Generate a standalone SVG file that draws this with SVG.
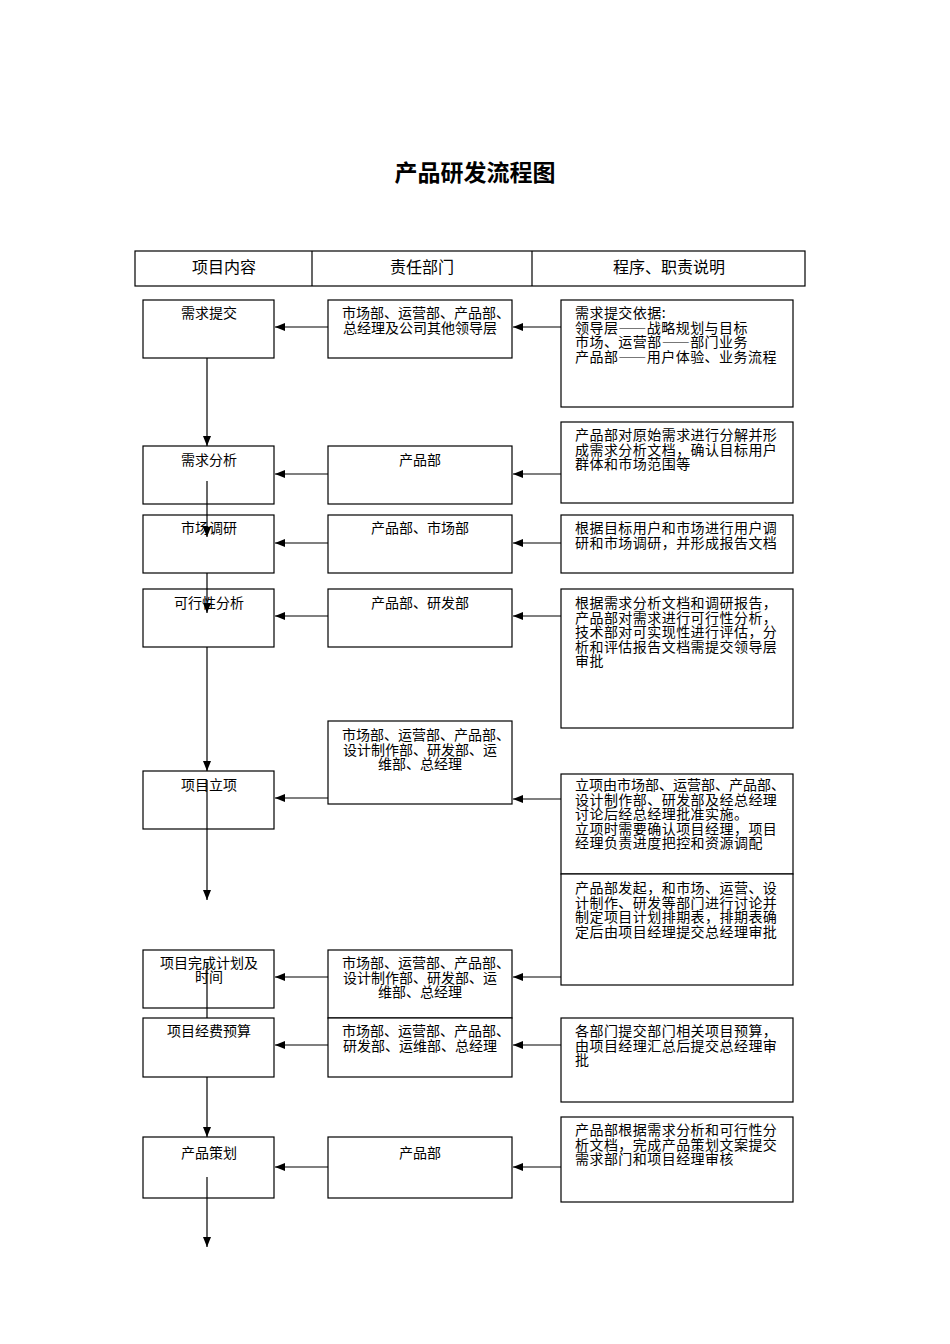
<svg xmlns="http://www.w3.org/2000/svg" width="950" height="1344" viewBox="0 0 950 1344">
<style>
.bx{fill:#fff;stroke:#000;stroke-width:1.2}
.t{font-family:"Noto Sans CJK SC","Liberation Serif",sans-serif;font-size:14px;fill:#000}
.r{letter-spacing:0.45px}
.fw{font-feature-settings:"fwid"}
.c{text-anchor:middle}
.h{font-family:"Noto Sans CJK SC","Liberation Serif",sans-serif;font-size:16px;fill:#000;text-anchor:middle}
.ln{stroke:#000;stroke-width:1.2;fill:none}
</style>
<defs>
<marker id="ah" markerUnits="userSpaceOnUse" markerWidth="10" markerHeight="8" refX="10" refY="4" orient="auto"><path d="M0,0 L10,4 L0,8 z" fill="#000"/></marker>
</defs>
<rect width="950" height="1344" fill="#fff"/>
<text x="475" y="181" font-family="Noto Sans CJK SC,sans-serif" font-size="23" font-weight="bold" text-anchor="middle">产品研发流程图</text>
<g id="header">
<rect class="bx" x="135" y="251" width="670" height="35"/>
<line class="ln" x1="312" y1="251" x2="312" y2="286"/>
<line class="ln" x1="532" y1="251" x2="532" y2="286"/>
<text class="h" x="224" y="273">项目内容</text>
<text class="h" x="422" y="273">责任部门</text>
<text class="h" x="669" y="273">程序、职责说明</text>
</g>
<g id="connectors">
<line class="ln" x1="561" y1="327" x2="513" y2="327" marker-end="url(#ah)"/>
<line class="ln" x1="328" y1="327" x2="275" y2="327" marker-end="url(#ah)"/>
<line class="ln" x1="561" y1="474" x2="513" y2="474" marker-end="url(#ah)"/>
<line class="ln" x1="328" y1="474" x2="275" y2="474" marker-end="url(#ah)"/>
<line class="ln" x1="561" y1="543" x2="513" y2="543" marker-end="url(#ah)"/>
<line class="ln" x1="328" y1="543" x2="275" y2="543" marker-end="url(#ah)"/>
<line class="ln" x1="561" y1="616" x2="513" y2="616" marker-end="url(#ah)"/>
<line class="ln" x1="328" y1="616" x2="275" y2="616" marker-end="url(#ah)"/>
<line class="ln" x1="561" y1="799" x2="513" y2="799" marker-end="url(#ah)"/>
<line class="ln" x1="328" y1="798" x2="275" y2="798" marker-end="url(#ah)"/>
<line class="ln" x1="561" y1="977" x2="513" y2="977" marker-end="url(#ah)"/>
<line class="ln" x1="328" y1="977" x2="275" y2="977" marker-end="url(#ah)"/>
<line class="ln" x1="561" y1="1045" x2="513" y2="1045" marker-end="url(#ah)"/>
<line class="ln" x1="328" y1="1045" x2="275" y2="1045" marker-end="url(#ah)"/>
<line class="ln" x1="561" y1="1167" x2="513" y2="1167" marker-end="url(#ah)"/>
<line class="ln" x1="328" y1="1167" x2="275" y2="1167" marker-end="url(#ah)"/>
</g>
<g id="n1">
<rect class="bx" x="143" y="300" width="131" height="58"/>
<text class="t c" x="209" y="318">需求提交</text>
</g>
<g id="n2">
<rect class="bx" x="143" y="446" width="131" height="58"/>
<text class="t c" x="209" y="465">需求分析</text>
</g>
<g id="n3">
<rect class="bx" x="143" y="515" width="131" height="58"/>
<text class="t c" x="209" y="533">市场调研</text>
</g>
<g id="n4">
<rect class="bx" x="143" y="589" width="131" height="58"/>
<text class="t c" x="209" y="608">可行性分析</text>
</g>
<g id="n5">
<rect class="bx" x="143" y="771" width="131" height="58"/>
<text class="t c" x="209" y="790">项目立项</text>
</g>
<g id="n6">
<rect class="bx" x="143" y="950" width="131" height="58"/>
<text class="t c" x="209" y="968">项目完成计划及</text>
<text class="t c" x="209" y="982">时间</text>
</g>
<g id="n7">
<rect class="bx" x="143" y="1018" width="131" height="59"/>
<text class="t c" x="209" y="1036">项目经费预算</text>
</g>
<g id="n8">
<rect class="bx" x="143" y="1137" width="131" height="61"/>
<text class="t c" x="209" y="1158">产品策划</text>
</g>
<g id="d1">
<rect class="bx" x="328" y="300" width="184" height="58"/>
<text class="t" x="342" y="318">市场部、运营部、产品部、</text>
<text class="t c" x="420" y="332.5">总经理及公司其他领导层</text>
</g>
<g id="d2">
<rect class="bx" x="328" y="446" width="184" height="58"/>
<text class="t c" x="420" y="465">产品部</text>
</g>
<g id="d3">
<rect class="bx" x="328" y="515" width="184" height="58"/>
<text class="t c" x="420" y="533">产品部、市场部</text>
</g>
<g id="d4">
<rect class="bx" x="328" y="589" width="184" height="58"/>
<text class="t c" x="420" y="608">产品部、研发部</text>
</g>
<g id="d5">
<rect class="bx" x="328" y="721" width="184" height="83"/>
<text class="t" x="342" y="740">市场部、运营部、产品部、</text>
<text class="t c" x="420" y="754.5">设计制作部、研发部、运</text>
<text class="t c" x="420" y="769">维部、总经理</text>
</g>
<g id="d6">
<rect class="bx" x="328" y="950" width="184" height="68"/>
<text class="t" x="342" y="968">市场部、运营部、产品部、</text>
<text class="t c" x="420" y="982.5">设计制作部、研发部、运</text>
<text class="t c" x="420" y="997">维部、总经理</text>
</g>
<g id="d7">
<rect class="bx" x="328" y="1018" width="184" height="59"/>
<text class="t" x="342" y="1036">市场部、运营部、产品部、</text>
<text class="t c" x="420" y="1050.5">研发部、运维部、总经理</text>
</g>
<g id="d8">
<rect class="bx" x="328" y="1137" width="184" height="61"/>
<text class="t c" x="420" y="1158">产品部</text>
</g>
<g id="r1">
<rect class="bx" x="561" y="300" width="232" height="107"/>
<text class="t r" x="575" y="318">需求提交依据:</text>
<text class="t r fw" x="575" y="332.5">领导层——战略规划与目标</text>
<text class="t r fw" x="575" y="347">市场、运营部——部门业务</text>
<text class="t r fw" x="575" y="361.5">产品部——用户体验、业务流程</text>
</g>
<g id="r2">
<rect class="bx" x="561" y="422" width="232" height="81"/>
<text class="t r" x="575" y="440">产品部对原始需求进行分解并形</text>
<text class="t r" x="575" y="454.5">成需求分析文档，确认目标用户</text>
<text class="t r" x="575" y="469">群体和市场范围等</text>
</g>
<g id="r3">
<rect class="bx" x="561" y="515" width="232" height="58"/>
<text class="t r" x="575" y="533">根据目标用户和市场进行用户调</text>
<text class="t r" x="575" y="547.5">研和市场调研，并形成报告文档</text>
</g>
<g id="r4">
<rect class="bx" x="561" y="589" width="232" height="139"/>
<text class="t r" x="575" y="608">根据需求分析文档和调研报告，</text>
<text class="t r" x="575" y="622.5">产品部对需求进行可行性分析，</text>
<text class="t r" x="575" y="637">技术部对可实现性进行评估，分</text>
<text class="t r" x="575" y="651.5">析和评估报告文档需提交领导层</text>
<text class="t r" x="575" y="666">审批</text>
</g>
<g id="r5">
<rect class="bx" x="561" y="774" width="232" height="100"/>
<text class="t" x="575" y="790">立项由市场部、运营部、产品部、</text>
<text class="t r" x="575" y="804.5">设计制作部、研发部及经总经理</text>
<text class="t r" x="575" y="819">讨论后经总经理批准实施。</text>
<text class="t r" x="575" y="833.5">立项时需要确认项目经理，项目</text>
<text class="t r" x="575" y="848">经理负责进度把控和资源调配</text>
</g>
<g id="r6">
<rect class="bx" x="561" y="874" width="232" height="111"/>
<text class="t r" x="575" y="893">产品部发起，和市场、运营、设</text>
<text class="t r" x="575" y="907.5">计制作、研发等部门进行讨论并</text>
<text class="t r" x="575" y="922">制定项目计划排期表，排期表确</text>
<text class="t r" x="575" y="936.5">定后由项目经理提交总经理审批</text>
</g>
<g id="r7">
<rect class="bx" x="561" y="1018" width="232" height="84"/>
<text class="t r" x="575" y="1036">各部门提交部门相关项目预算，</text>
<text class="t r" x="575" y="1050.5">由项目经理汇总后提交总经理审</text>
<text class="t r" x="575" y="1065">批</text>
</g>
<g id="r8">
<rect class="bx" x="561" y="1117" width="232" height="85"/>
<text class="t r" x="575" y="1135">产品部根据需求分析和可行性分</text>
<text class="t r" x="575" y="1149.5">析文档，完成产品策划文案提交</text>
<text class="t r" x="575" y="1164">需求部门和项目经理审核</text>
</g>
<g id="vconnectors">
<line class="ln" x1="207" y1="358" x2="207" y2="446" marker-end="url(#ah)"/>
<line class="ln" x1="207" y1="481" x2="207" y2="537" marker-end="url(#ah)"/>
<line class="ln" x1="207" y1="573" x2="207" y2="613" marker-end="url(#ah)"/>
<line class="ln" x1="207" y1="647" x2="207" y2="771" marker-end="url(#ah)"/>
<line class="ln" x1="207" y1="780" x2="207" y2="900" marker-end="url(#ah)"/>
<line class="ln" x1="207" y1="962" x2="207" y2="1018"/>
<line class="ln" x1="207" y1="1077" x2="207" y2="1137" marker-end="url(#ah)"/>
<line class="ln" x1="207" y1="1177" x2="207" y2="1247" marker-end="url(#ah)"/>
</g>
</svg>
